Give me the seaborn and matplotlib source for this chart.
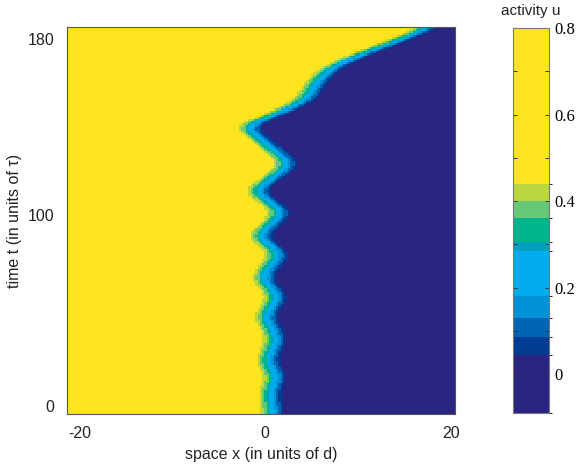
import numpy as np
import pandas as pd
import seaborn as sns
import matplotlib
matplotlib.use('Agg')
import matplotlib.pyplot as plt
from matplotlib.colors import ListedColormap, BoundaryNorm

# front position (centre of the cyan band)
front_t = [-4.4, 7.4, 13.7, 22.1, 33.3, 43.2, 53.9, 62.8, 74.5, 83.4, 94.7,
           105.4, 118.7, 137.3, 139.7, 144.6, 149.6, 160.9, 167.7, 172.6,
           177.5, 182.4, 185.4]
front_x = [0.86, 0.54, 1.29, 0.22, 1.29, 0.0, 1.40, -0.32, 1.61, -0.75, 1.94,
           -1.08, 2.69, -2.15, -0.86, 1.94, 4.3, 5.9, 7.74, 10.5,
           13.4, 15.9, 17.7]

# activity levels either side of the front
u_high = 0.78
u_low = -0.08

# colour levels of the colorbar
levels = [-0.09, 0.045, 0.085, 0.13, 0.18, 0.285, 0.305, 0.36, 0.40, 0.44, 0.8]
level_colors = ['#2b2582', '#003c91', '#0064b4', '#0091d7', '#00acec',
                '#00a0be', '#00b48c', '#64c878', '#b9d73c', '#fce41e']

cbar_ticks = [0, 0.1, 0.2, 0.3, 0.4, 0.5, 0.6, 0.7, 0.8]
cbar_labels = ['0', '', '0.2', '', '0.4', '', '0.6', '', '0.8']
x_ticks = [-20, 0, 20]
t_ticks = [0, 93.6, 180]
t_tick_labels = ['0', '100', '180']

# grid
dx, dt = 0.25, 1.0
xs = np.arange(-21.2, 20.5 + 1e-9, dx)
ts = np.arange(185.4, -4.4 - 1e-9, -dt)
front = np.interp(ts, front_t, front_x)
# round off the corners of the zigzag a little
k = np.ones(7) / 7
front = np.convolve(np.pad(front, 3, mode='edge'), k, mode='valid')
wl, wr = 3.5, 2.0
d = xs[None, :] - front[:, None] + 0.285 * wr  # cyan centre sits at d = 0.285 w
w = np.where(d < 0, wl, wr)
s = 0.5 * (1 - np.tanh(d / w))
u = u_low + (u_high - u_low) * s
field = pd.DataFrame(u, index=np.round(ts, 2), columns=np.round(xs, 2))

plt.rcParams['font.family'] = ['Liberation Sans', 'DejaVu Sans']
fig = plt.figure(figsize=(5.78, 4.66), dpi=100)
ax = fig.add_axes([67/578, 1-414/466, 388/578, 387/466])
cax = fig.add_axes([513/578, 1-413/466, 36/578, 385/466])

cmap = ListedColormap(level_colors)
norm = BoundaryNorm(levels, cmap.N)
sns.heatmap(field, ax=ax, cbar_ax=cax, cmap=cmap, norm=norm,
            xticklabels=False, yticklabels=False,
            cbar_kws={'spacing': 'proportional', 'ticks': cbar_ticks})

# ticks on the heatmap (cell index coordinates)
ax.set_xticks([(x - xs[0]) / dx + 0.5 for x in x_ticks], [str(x) for x in x_ticks])
ax.set_yticks([(ts[0] - t) / dt + 0.5 for t in t_ticks], t_tick_labels, rotation=0)
ax.tick_params(length=0, labelsize=11.5, pad=9, colors='#222222')
ax.set_xlabel('space x (in units of d)', fontsize=11.5, labelpad=4, color='#222222')
ax.set_ylabel('time t (in units of τ)', fontsize=11.5, labelpad=4, color='#222222')
for sp in ax.spines.values():
    sp.set_visible(True)
    sp.set_color('#555555')
    sp.set_linewidth(0.8)

# colorbar
cbar = ax.collections[0].colorbar
cbar.set_ticks(cbar_ticks, labels=cbar_labels)
cax.tick_params(left=True, right=True, direction='in', length=3, width=0.7,
                color='#333333', labelsize=12, pad=4)
for lab in cax.get_yticklabels():
    lab.set_family(['Liberation Serif', 'DejaVu Serif'])
cax.set_title('activity u', fontsize=11, pad=9, color='#222222')
cbar.outline.set_edgecolor('#777777')
cbar.outline.set_linewidth(0.8)

fig.savefig('out.png', dpi=100)
